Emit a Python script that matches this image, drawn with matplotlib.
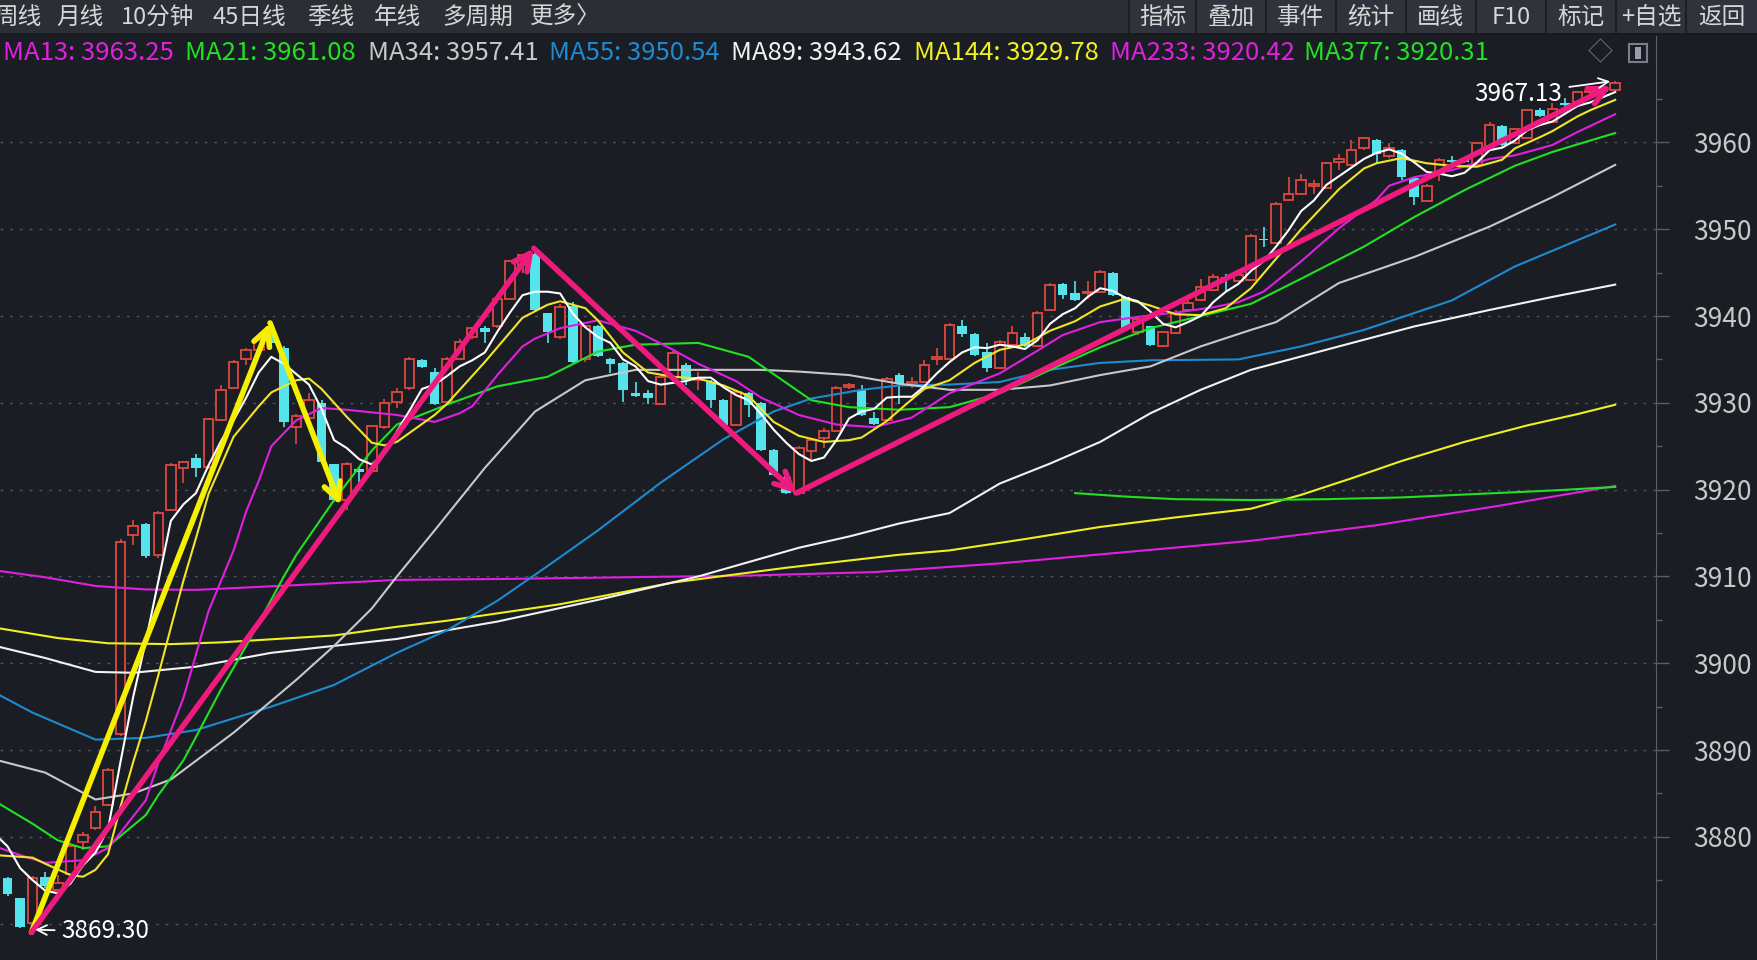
import numpy as np
import matplotlib
matplotlib.use('Agg')
import matplotlib.pyplot as plt
from matplotlib.patches import Rectangle

plt.rcParams['font.family'] = ['Noto Sans CJK SC', 'DejaVu Sans']

BG = '#1b1d24'
UP = '#e0483e'
DOWN = '#55e4ec'

# candle data (10-min bars)
opens = [3879.5, 3875.2, 3872.9, 3870.1, 3875.4, 3873.9, 3875.7, 3879.4, 3881.0, 3883.7,
         3891.9, 3914.8, 3916.0, 3912.5, 3917.6, 3922.45, 3923.6, 3922.6, 3928.0, 3931.7,
         3935.1, 3936.1, 3938.2, 3936.3, 3927.25, 3928.2, 3930.0, 3922.9, 3918.8, 3922.4,
         3922.2, 3927.2, 3930.1, 3931.7, 3934.9, 3933.6, 3930.1, 3935.1, 3937.6, 3938.6,
         3938.8, 3942.0, 3945.9, 3947.2, 3940.3, 3937.6, 3941.2, 3935.1, 3938.8, 3935.1,
         3934.6, 3931.1, 3931.1, 3929.9, 3933.0, 3934.4, 3932.6, 3932.4, 3930.3, 3927.4,
         3931.1, 3930.0, 3924.6, 3921.5, 3919.6, 3924.4, 3925.9, 3926.7, 3931.8, 3931.5,
         3928.2, 3928.0, 3933.2, 3932.2, 3932.4, 3935.1, 3935.1, 3938.8, 3937.9, 3935.9,
         3934.0, 3936.7, 3937.6, 3936.5, 3940.7, 3943.7, 3942.7, 3942.6, 3942.8, 3945.0,
         3942.2, 3938.2, 3938.8, 3936.5, 3938.0, 3940.7, 3941.85, 3943.0, 3944.5, 3944.0,
         3944.2, 3948.9, 3948.4, 3953.4, 3954.1, 3955.0, 3954.7, 3957.8, 3957.4, 3959.3,
         3960.3, 3958.4, 3959.1, 3955.9, 3953.3, 3956.4, 3958.0, 3957.9, 3957.4, 3959.5,
         3961.9, 3959.9, 3960.5, 3963.7, 3962.3, 3964.5, 3964.7, 3965.8, 3965.9, 3966.0]
highs = [3880.0, 3875.4, 3873.0, 3875.5, 3875.9, 3875.6, 3879.1, 3880.5, 3883.6, 3887.9,
         3914.3, 3916.5, 3916.1, 3917.5, 3923.1, 3923.3, 3924.1, 3928.3, 3932.0, 3934.9,
         3936.3, 3937.6, 3938.8, 3936.5, 3928.7, 3931.1, 3930.3, 3923.0, 3923.2, 3922.6,
         3927.5, 3930.4, 3931.7, 3935.3, 3935.0, 3934.0, 3935.3, 3937.4, 3938.7, 3938.8,
         3942.2, 3946.5, 3947.0, 3947.7, 3940.4, 3941.4, 3941.6, 3939.0, 3939.0, 3935.2,
         3934.7, 3932.4, 3931.5, 3933.2, 3936.0, 3934.6, 3933.6, 3932.6, 3930.4, 3931.5,
         3931.2, 3930.1, 3924.7, 3921.6, 3925.0, 3925.9, 3927.1, 3931.9, 3932.3, 3932.05,
         3928.9, 3933.0, 3933.4, 3933.0, 3934.9, 3936.3, 3939.2, 3939.5, 3938.0, 3936.9,
         3937.2, 3938.8, 3938.0, 3940.6, 3943.8, 3943.8, 3944.0, 3944.0, 3945.3, 3945.1,
         3942.3, 3939.8, 3938.9, 3938.3, 3940.7, 3941.9, 3944.3, 3944.8, 3944.8, 3945.3,
         3949.4, 3950.3, 3953.1, 3956.0, 3956.4, 3955.7, 3957.8, 3958.7, 3960.3, 3960.6,
         3960.4, 3959.9, 3959.2, 3956.0, 3955.2, 3958.2, 3958.4, 3958.0, 3960.1, 3962.4,
         3962.0, 3961.6, 3963.8, 3964.0, 3964.5, 3965.1, 3965.9, 3966.0, 3966.3, 3967.13]
lows = [3876.0, 3873.2, 3869.5, 3869.3, 3874.1, 3873.5, 3875.4, 3878.5, 3880.8, 3883.5,
        3891.6, 3913.6, 3912.1, 3912.1, 3917.5, 3920.8, 3921.5, 3922.4, 3927.9, 3931.6,
        3934.3, 3935.9, 3936.7, 3927.2, 3925.3, 3928.0, 3923.0, 3918.6, 3917.7, 3920.9,
        3922.0, 3927.0, 3929.4, 3931.5, 3934.0, 3929.8, 3929.9, 3935.0, 3937.3, 3936.9,
        3938.6, 3941.9, 3944.9, 3940.5, 3936.9, 3937.4, 3934.6, 3934.7, 3935.3, 3933.4,
        3930.1, 3930.7, 3929.9, 3929.8, 3932.9, 3932.1, 3931.5, 3929.4, 3927.3, 3927.3,
        3928.4, 3924.5, 3921.6, 3919.5, 3919.4, 3923.4, 3924.8, 3926.6, 3931.6, 3928.5,
        3927.4, 3927.9, 3929.9, 3931.7, 3932.3, 3934.4, 3935.0, 3937.6, 3935.4, 3933.6,
        3933.9, 3936.6, 3936.4, 3936.4, 3940.6, 3942.0, 3941.7, 3942.0, 3942.7, 3942.3,
        3938.4, 3937.8, 3936.5, 3936.4, 3937.9, 3940.6, 3941.7, 3942.9, 3942.8, 3943.9,
        3944.1, 3948.0, 3948.3, 3953.3, 3954.0, 3954.1, 3954.6, 3956.8, 3957.3, 3959.1,
        3957.6, 3958.2, 3955.7, 3952.8, 3953.2, 3955.5, 3957.2, 3957.6, 3957.3, 3959.4,
        3959.6, 3959.8, 3960.4, 3962.9, 3962.2, 3963.7, 3964.6, 3965.6, 3965.8, 3965.9]
closes = [3876.3, 3873.4, 3869.6, 3875.3, 3874.3, 3874.7, 3878.9, 3880.2, 3882.9, 3887.7,
          3914.0, 3915.8, 3912.3, 3917.3, 3922.8, 3923.2, 3922.45, 3928.1, 3931.5, 3934.7,
          3936.1, 3937.2, 3936.9, 3927.8, 3928.5, 3930.3, 3923.2, 3918.8, 3923.0, 3922.0,
          3927.3, 3930.0, 3931.3, 3935.1, 3934.1, 3929.9, 3935.1, 3937.0, 3938.6, 3938.2,
          3942.0, 3946.3, 3947.0, 3940.7, 3938.2, 3941.0, 3934.7, 3938.8, 3935.4, 3934.5,
          3931.5, 3930.8, 3930.5, 3933.0, 3935.7, 3932.6, 3932.9, 3930.3, 3927.4, 3931.3,
          3929.7, 3924.6, 3921.7, 3919.6, 3924.8, 3925.7, 3926.7, 3931.7, 3932.05, 3928.6,
          3927.6, 3932.8, 3932.2, 3932.4, 3934.4, 3935.3, 3939.0, 3937.9, 3935.5, 3934.0,
          3937.0, 3938.0, 3936.5, 3940.3, 3943.6, 3942.4, 3941.85, 3942.8, 3945.1, 3942.4,
          3938.5, 3939.7, 3936.65, 3938.2, 3940.3, 3941.5, 3943.4, 3944.5, 3944.3, 3944.7,
          3949.2, 3948.8, 3952.9, 3954.1, 3955.7, 3955.2, 3957.6, 3958.1, 3959.1, 3960.5,
          3958.7, 3959.4, 3956.0, 3953.7, 3955.0, 3958.0, 3957.8, 3957.8, 3959.9, 3962.0,
          3959.7, 3961.5, 3963.7, 3963.1, 3963.9, 3964.3, 3965.8, 3965.9, 3966.2, 3966.9]

# moving averages (bar index, value)
ma5 = [3880.3, 3878.9, 3876.4, 3875.0, 3873.8, 3873.5, 3874.6, 3876.7, 3878.2, 3880.9,
       3888.7, 3896.1, 3902.5, 3909.4, 3916.4, 3918.3, 3919.6, 3922.8, 3925.6, 3928.0,
       3930.6, 3933.5, 3935.3, 3934.5, 3933.3, 3932.1, 3929.3, 3925.7, 3924.8, 3923.5,
       3922.9, 3924.2, 3926.7, 3929.1, 3931.6, 3932.1, 3933.1, 3934.2, 3934.9, 3935.8,
       3938.2, 3940.4, 3942.4, 3942.8, 3942.8, 3942.6, 3940.3, 3938.7, 3937.6, 3936.9,
       3935.0, 3934.2, 3932.5, 3932.1, 3932.3, 3932.5, 3932.9, 3932.9, 3931.8, 3930.9,
       3930.3, 3928.7, 3926.9, 3925.4, 3924.1, 3923.3, 3923.7, 3925.7, 3928.2, 3929.0,
       3929.3, 3930.6, 3930.7, 3930.7, 3931.9, 3933.4, 3934.7, 3935.8, 3936.4, 3936.3,
       3936.7, 3936.5, 3936.2, 3937.2, 3939.1, 3940.2, 3940.9, 3942.2, 3943.2, 3942.9,
       3942.1, 3941.7, 3940.5, 3939.1, 3938.7, 3939.3, 3940.0, 3941.6, 3942.8, 3943.7,
       3945.2, 3946.3, 3948.0, 3949.9, 3952.1, 3953.3, 3955.1, 3956.1, 3957.1, 3958.1,
       3958.8, 3959.2, 3958.7, 3957.7, 3956.6, 3956.4, 3956.1, 3956.5, 3957.7, 3959.1,
       3959.4, 3960.2, 3961.4, 3962.0, 3962.4, 3963.3, 3964.2, 3964.6, 3965.2, 3965.8]

ma8_idx = [0, 2, 3, 4, 6, 7, 8, 9, 10, 11, 12, 13, 14, 15, 16, 17, 19, 21, 22, 24,
           25, 26, 28, 30, 31, 32, 35, 36, 39, 42, 44, 45, 47, 48, 50, 52, 54, 56, 58, 60,
           62, 64, 66, 68, 69, 71, 73, 74, 76, 78, 80, 82, 84, 86, 88, 90, 92, 94, 96, 98,
           100, 102, 104, 107, 109, 110, 112, 114, 116, 118, 120, 121, 123, 124, 126, 127, 129]
ma8 = [3877.9, 3877.7, 3877.6, 3876.9, 3875.6, 3875.4, 3876.2, 3878.0, 3883.5, 3888.6,
       3893.3, 3898.6, 3904.1, 3909.5, 3914.4, 3919.5, 3926.1, 3929.6, 3931.2, 3932.6,
       3932.8, 3931.6, 3928.4, 3925.4, 3925.1, 3925.5, 3928.6, 3929.9, 3934.7, 3939.8,
       3941.3, 3941.7, 3940.9, 3939.5, 3935.8, 3933.5, 3933.0, 3932.8, 3932.0, 3930.8,
       3927.8, 3926.2, 3925.5, 3925.7, 3926.0, 3927.9, 3930.4, 3931.6, 3932.6, 3934.6,
       3936.1, 3936.7, 3938.3, 3939.4, 3941.1, 3942.0, 3941.2, 3940.2, 3940.1, 3940.9,
       3943.2, 3946.6, 3950.0, 3954.6, 3957.0, 3957.6, 3958.2, 3957.6, 3957.3, 3957.2,
       3958.0, 3959.3, 3960.6, 3961.3, 3963.0, 3963.7, 3964.9]

ma13_idx = [0, 2, 4, 7, 9, 10, 12, 13, 15, 17, 19, 20, 21, 22, 24, 26, 28, 30, 32, 35,
            37, 38, 40, 42, 43, 45, 48, 51, 54, 56, 59, 61, 64, 67, 70, 73, 76, 80, 83, 85,
            88, 91, 94, 97, 99, 101, 104, 107, 110, 111, 113, 116, 119, 121, 124, 126, 129]
ma13 = [3878.9, 3877.9, 3877.0, 3877.3, 3878.7, 3880.5, 3884.2, 3888.5, 3896.0, 3906.0,
        3913.0, 3917.5, 3921.0, 3925.0, 3928.0, 3929.4, 3929.2, 3928.9, 3928.6, 3927.8,
        3928.8, 3929.6, 3933.2, 3936.5, 3937.4, 3938.6, 3939.5, 3938.3, 3936.1, 3934.5,
        3932.5, 3930.6, 3928.6, 3927.5, 3927.2, 3928.3, 3931.1, 3933.4, 3936.0, 3937.8,
        3939.3, 3939.9, 3940.4, 3941.0, 3941.6, 3942.8, 3946.3, 3950.1, 3953.4, 3955.0,
        3956.0, 3956.8, 3958.1, 3958.5, 3959.7, 3961.2, 3963.25]

ma21_idx = [0, 3, 5, 7, 9, 12, 13, 15, 16, 18, 20, 23, 24, 27, 30, 32, 36, 40, 44, 48,
            51, 56, 60, 63, 65, 68, 72, 76, 80, 84, 88, 92, 96, 100, 104, 109, 113, 117, 121, 124, 129]
ma21 = [3884.1, 3881.5, 3879.6, 3878.7, 3878.9, 3882.5, 3884.8, 3888.8, 3891.5, 3897.0,
        3902.0, 3910.0, 3912.5, 3918.8, 3924.5, 3927.5, 3929.8, 3931.9, 3933.0, 3935.9,
        3936.7, 3936.9, 3935.3, 3932.3, 3930.3, 3929.5, 3929.2, 3929.5, 3931.1, 3933.8,
        3936.4, 3938.6, 3940.0, 3941.4, 3944.3, 3948.0, 3951.4, 3954.5, 3957.3, 3958.9, 3961.08]

ma34_idx = [0, 4, 8, 11, 14, 19, 24, 27, 30, 32, 35, 39, 43, 47, 51, 56, 61, 64, 68, 72,
            76, 80, 84, 88, 92, 96, 100, 102, 107, 113, 119, 124, 129]
ma34 = [3888.9, 3887.4, 3884.3, 3885.0, 3886.6, 3892.0, 3898.1, 3902.0, 3906.3, 3910.0,
        3915.3, 3922.5, 3929.0, 3932.6, 3933.8, 3933.8, 3933.8, 3933.6, 3933.2, 3932.2,
        3931.5, 3931.5, 3932.0, 3933.2, 3934.2, 3936.5, 3938.4, 3939.3, 3943.8, 3946.8,
        3950.3, 3953.7, 3957.41]

ma55_idx = [0, 3, 8, 12, 16, 22, 27, 32, 36, 40, 44, 48, 53, 58, 62, 65, 69, 72, 76, 80,
            84, 88, 92, 99, 104, 109, 116, 121, 129]
ma55 = [3896.6, 3894.3, 3891.2, 3891.4, 3892.3, 3895.0, 3897.5, 3901.2, 3903.8, 3907.2,
        3911.2, 3915.3, 3920.8, 3925.8, 3929.0, 3930.5, 3931.5, 3932.0, 3932.1, 3932.4,
        3933.8, 3934.6, 3934.9, 3935.0, 3936.5, 3938.4, 3941.8, 3945.7, 3950.54]

ma89_idx = [0, 4, 8, 11, 16, 22, 32, 40, 48, 56, 64, 68, 72, 76, 80, 84, 88, 92, 96, 100,
            107, 113, 119, 124, 129]
ma89 = [3902.0, 3900.6, 3899.0, 3898.9, 3899.6, 3901.2, 3902.8, 3904.8, 3907.3, 3910.0,
        3913.3, 3914.6, 3916.1, 3917.3, 3920.7, 3923.0, 3925.5, 3928.8, 3931.5, 3933.8,
        3936.5, 3938.8, 3940.7, 3942.2, 3943.62]

ma144_idx = [0, 5, 9, 14, 18, 27, 32, 36, 45, 54, 63, 72, 76, 82, 88, 94, 100, 104, 108, 112,
             117, 122, 126, 129]
ma144 = [3904.1, 3902.9, 3902.3, 3902.2, 3902.4, 3903.2, 3904.2, 3904.9, 3906.8, 3909.3,
         3911.0, 3912.5, 3913.0, 3914.3, 3915.7, 3916.8, 3917.8, 3919.4, 3921.3, 3923.3,
         3925.5, 3927.4, 3928.7, 3929.78]

ma233_idx = [0, 4, 8, 12, 16, 24, 32, 40, 50, 60, 70, 80, 90, 100, 110, 120, 129]
ma233 = [3910.7, 3909.9, 3908.9, 3908.5, 3908.45, 3909.0, 3909.6, 3909.7, 3909.9, 3910.1,
         3910.5, 3911.5, 3912.8, 3914.1, 3915.9, 3918.2, 3920.42]

ma377_idx = [86, 90, 94, 100, 106, 112, 118, 124, 129]
ma377 = [3919.6, 3919.2, 3918.9, 3918.8, 3918.9, 3919.1, 3919.5, 3919.9, 3920.31]

# hand-drawn wave lines on the chart (bar index, price)
yellow_wave_x = [2.9, 21.9, 27.5]
yellow_wave_y = [3869.0, 3939.2, 3918.2]
pink_wave_x = [2.9, 42.9, 63.8, 128.7]
pink_wave_y = [3869.0, 3947.8, 3919.6, 3966.5]

legend_names = ['MA13', 'MA21', 'MA34', 'MA55', 'MA89', 'MA144', 'MA233', 'MA377']
legend_vals = [3963.25, 3961.08, 3957.41, 3950.54, 3943.62, 3929.78, 3920.42, 3920.31]
legend_colors = ['#e020e0', '#22e022', '#c8c8c8', '#1e8ad0', '#f2f2f2', '#f0f020', '#e020e0', '#22e022']
legend_x = [3, 185, 368, 549, 731, 914, 1110, 1304]

tabs = ['周线', '月线', '10分钟', '45日线', '季线', '年线', '多周期', '更多〉']
tabs_x = [-6, 56, 121, 213, 307, 374, 442, 530]
buttons = ['指标', '叠加', '事件', '统计', '画线', 'F10', '标记', '+自选', '返回']
button_edges = [1129, 1196, 1266, 1336, 1406, 1476, 1546, 1616, 1686, 1758]

price_ticks = list(range(3880, 3961, 10))
grid_levels = list(range(3870, 3961, 10))

W, H = 1758, 960
fig = plt.figure(figsize=(W / 100, H / 100), dpi=100, facecolor=BG)
ax = fig.add_axes([0, 0, 1656 / W, (H - 36) / H])
ax.set_facecolor(BG)

o = np.array(opens)
h = np.array(highs)
l = np.array(lows)
c = np.array(closes)
x = np.arange(len(c))
up = c >= o
top = np.maximum(o, c)
bot = np.minimum(o, c)
body = np.maximum(top - bot, 0.12)

for lv in grid_levels:
    ax.axhline(lv, color='#4f535e', lw=1.0, ls=(0, (2, 5)), zorder=1)

ax.vlines(x[up], top[up], h[up], color=UP, lw=1.2, zorder=2)
ax.vlines(x[up], l[up], bot[up], color=UP, lw=1.2, zorder=2)
ax.vlines(x[~up], l[~up], h[~up], color=DOWN, lw=1.2, zorder=2)
ax.bar(x[up], body[up], bottom=bot[up], width=0.76, facecolor=BG, edgecolor=UP, lw=1.3, zorder=2)
ax.bar(x[~up], body[~up], bottom=bot[~up], width=0.76, color=DOWN, lw=0, zorder=2)

lw_ma = 1.5
ax.plot(ma233_idx, ma233, color='#e020e0', lw=lw_ma, zorder=3)
ax.plot(ma144_idx, ma144, color='#f0f020', lw=lw_ma, zorder=3)
ax.plot(ma377_idx, ma377, color='#22e022', lw=lw_ma, zorder=3)
ax.plot(ma89_idx, ma89, color='#f2f2f2', lw=lw_ma, zorder=3)
ax.plot(ma55_idx, ma55, color='#1e8ad0', lw=lw_ma, zorder=3)
ax.plot(ma34_idx, ma34, color='#c8c8c8', lw=lw_ma, zorder=3)
ax.plot(ma21_idx, ma21, color='#22e022', lw=lw_ma, zorder=3)
ax.plot(ma13_idx, ma13, color='#e020e0', lw=lw_ma, zorder=3)
ax.plot(ma8_idx, ma8, color='#f0e628', lw=lw_ma, zorder=3)
ax.plot(x, ma5, color='#ffffff', lw=lw_ma, zorder=3)


def wave(xs, ys, color):
    for i in range(len(xs) - 1):
        ax.annotate('', xy=(xs[i + 1], ys[i + 1]), xytext=(xs[i], ys[i]),
                    arrowprops=dict(arrowstyle='->,head_length=1.0,head_width=0.5',
                                    color=color, lw=4, shrinkA=0, shrinkB=0,
                                    mutation_scale=12),
                    zorder=5)


wave(yellow_wave_x, yellow_wave_y, '#f5f000')
wave(pink_wave_x, pink_wave_y, '#ee1a7e')

ax.annotate('3869.30', xy=(3.2, lows[3]), xytext=(5.3, 3869.1), color='white',
            fontsize=17.5, va='center', ha='left', zorder=6,
            arrowprops=dict(arrowstyle='->', color='white', lw=1.3, shrinkA=3, shrinkB=0))
ax.annotate('3967.13', xy=(128.6, highs[-1] - 0.1), xytext=(124.8, 3965.6), color='white',
            fontsize=17.5, va='center', ha='right', zorder=6,
            arrowprops=dict(arrowstyle='->', color='white', lw=1.3, shrinkA=3, shrinkB=0))

ax.set_xlim(0.398, 132.25)
ax.set_ylim(3865.81, 3972.26)
ax.set_xticks([])
ax.yaxis.tick_right()
ax.set_yticks(price_ticks)
ax.set_yticks(list(range(3875, 3966, 10)), minor=True)
ax.tick_params(axis='y', which='major', colors='#c8c8c8', labelsize=19, length=9, pad=18,
               width=1, color='#5a5f6a')
ax.tick_params(axis='y', which='minor', length=4, width=1, color='#5a5f6a')
for s in ['top', 'left', 'bottom']:
    ax.spines[s].set_visible(False)
ax.spines['right'].set_color('#5a5f6a')

# toolbar
fig.add_artist(Rectangle((0, 1 - 34 / H), 1, 34 / H, transform=fig.transFigure,
                         facecolor='#2b2e35', edgecolor='none'))
fig.add_artist(Rectangle((button_edges[0] / W, 1 - 34 / H), 1, 34 / H, transform=fig.transFigure,
                         facecolor='#30333b', edgecolor='none'))
for t, tx in zip(tabs, tabs_x):
    fig.text(tx / W, 1 - 17 / H, t, color='#d6d6d6', fontsize=17, va='center', ha='left')
for i, b in enumerate(buttons):
    cx = (button_edges[i] + button_edges[i + 1]) / 2
    fig.text(cx / W, 1 - 17 / H, b, color='#d6d6d6', fontsize=17, va='center', ha='center')
for e in button_edges[:-1]:
    fig.add_artist(plt.Line2D([e / W, e / W], [1 - 34 / H, 1], transform=fig.transFigure,
                              color='#1c1e24', lw=1.5))
fig.add_artist(plt.Line2D([0, 1], [1 - 34 / H, 1 - 34 / H], transform=fig.transFigure,
                          color='#16181d', lw=1.2))

# MA legend row
for name, val, col, lx in zip(legend_names, legend_vals, legend_colors, legend_x):
    fig.text(lx / W, 1 - 53 / H, f'{name}: {val:.2f}', color=col, fontsize=18.5,
             va='center', ha='left')
fig.text(1600 / W, 1 - 53 / H, '◇', color='#6c707a', fontsize=18, va='center', ha='center')
fig.add_artist(Rectangle((1629 / W, 1 - 62 / H), 18 / W, 18 / H, transform=fig.transFigure,
                         facecolor='none', edgecolor='#7a7e88', lw=1.5))
fig.add_artist(Rectangle((1635 / W, 1 - 59 / H), 6 / W, 12 / H, transform=fig.transFigure,
                         facecolor='#9a9ea8', edgecolor='none'))

fig.savefig('out.png', dpi=100, facecolor=BG)
